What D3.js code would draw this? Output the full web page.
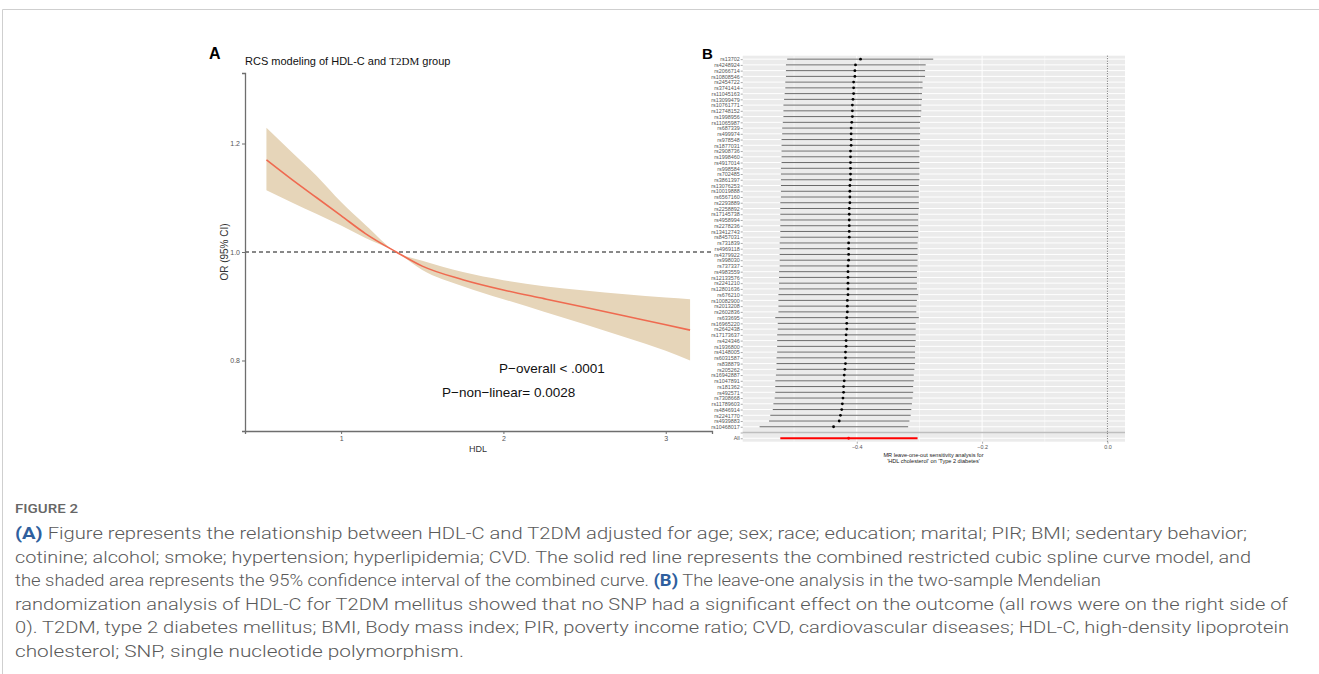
<!DOCTYPE html>
<html>
<head>
<meta charset="utf-8">
<script src="https://cdn.jsdelivr.net/npm/d3@7"></script>
<style>
body { margin: 0; background: #fff; }
svg { display: block; }
</style>
</head>
<body>
<svg id="svg1" width="1319" height="674"></svg>
<script>
// ---- panel A : RCS curve ----
var hdl     = [0.54, 0.7, 0.85, 1.0, 1.15, 1.34, 1.5, 1.75, 2.0, 2.25, 2.5, 2.75, 3.0, 3.15];
var orFit   = [1.170, 1.133, 1.100, 1.067, 1.034, 1.000, 0.974, 0.949, 0.930, 0.914, 0.898, 0.882, 0.866, 0.856];
var orLower = [1.114, 1.091, 1.070, 1.049, 1.026, 1.000, 0.967, 0.937, 0.913, 0.890, 0.867, 0.843, 0.818, 0.800];
var orUpper = [1.229, 1.183, 1.140, 1.092, 1.050, 1.000, 0.984, 0.963, 0.948, 0.937, 0.929, 0.922, 0.916, 0.913];
var xTicksA = [1, 2, 3];
var yTicksA = [0.8, 1.0, 1.2];

// ---- panel B : leave-one-out ----
var snps = ["rs13702","rs4248924","rs2066714","rs10808546","rs2454722","rs3741414","rs11045163","rs13099479",
  "rs10761771","rs12748152","rs1998956","rs11065987","rs687339","rs499974","rs978548","rs1877031","rs2908736",
  "rs1998460","rs4917014","rs998584","rs702485","rs3861397","rs13076253","rs10019888","rs6567160","rs2293889",
  "rs2258892","rs17145738","rs4958994","rs2278236","rs13412743","rs8457031","rs731839","rs4969118","rs4379922",
  "rs998030","rs737337","rs4983559","rs12133576","rs2241210","rs12801636","rs676210","rs10082900","rs2013208",
  "rs2602836","rs633695","rs16965220","rs2642438","rs17173637","rs424346","rs1936800","rs4148005","rs6031587",
  "rs838879","rs205262","rs16942887","rs1047891","rs181362","rs492571","rs7308668","rs11789603","rs4846914",
  "rs2241770","rs4939883","rs10468017"];
var snpEst = [-0.394,-0.402,-0.403,-0.403,-0.405,-0.405,-0.405,-0.406,-0.407,-0.407,-0.407,-0.408,-0.409,
  -0.409,-0.409,-0.409,-0.410,-0.410,-0.410,-0.410,-0.410,-0.410,-0.411,-0.411,-0.411,-0.411,-0.412,-0.412,
  -0.412,-0.412,-0.412,-0.412,-0.413,-0.413,-0.413,-0.413,-0.414,-0.414,-0.414,-0.414,-0.414,-0.414,-0.415,
  -0.415,-0.415,-0.416,-0.416,-0.416,-0.417,-0.417,-0.417,-0.418,-0.418,-0.418,-0.419,-0.420,-0.420,-0.421,
  -0.421,-0.422,-0.423,-0.424,-0.426,-0.428,-0.437];
var snpLo = [-0.511,-0.513,-0.513,-0.513,-0.514,-0.514,-0.515,-0.516,-0.517,-0.517,-0.517,-0.518,-0.519,
  -0.519,-0.520,-0.520,-0.520,-0.520,-0.520,-0.521,-0.521,-0.521,-0.521,-0.521,-0.521,-0.522,-0.522,-0.522,
  -0.522,-0.522,-0.522,-0.522,-0.523,-0.523,-0.523,-0.523,-0.523,-0.524,-0.524,-0.524,-0.524,-0.525,-0.525,
  -0.525,-0.525,-0.530,-0.526,-0.526,-0.527,-0.527,-0.527,-0.527,-0.528,-0.528,-0.528,-0.529,-0.530,-0.530,
  -0.530,-0.531,-0.533,-0.534,-0.538,-0.540,-0.555];
var snpHi = [-0.278,-0.290,-0.291,-0.291,-0.295,-0.295,-0.296,-0.296,-0.297,-0.297,-0.298,-0.299,-0.299,
  -0.299,-0.299,-0.300,-0.300,-0.300,-0.300,-0.300,-0.300,-0.300,-0.301,-0.301,-0.301,-0.301,-0.301,-0.302,
  -0.302,-0.302,-0.302,-0.302,-0.303,-0.303,-0.303,-0.303,-0.303,-0.304,-0.304,-0.304,-0.304,-0.302,-0.304,
  -0.305,-0.305,-0.301,-0.306,-0.306,-0.306,-0.306,-0.307,-0.307,-0.307,-0.307,-0.308,-0.309,-0.309,-0.310,
  -0.310,-0.311,-0.312,-0.313,-0.314,-0.316,-0.318];
var allEst = -0.413, allLo = -0.522, allHi = -0.303;
var xTicksB = [-0.4, -0.2, 0.0];
var xMinorB = [-0.5, -0.3, -0.1];

// ---- caption ----
var captionTitle = "FIGURE 2";
var captionLines = [
  "(A) Figure represents the relationship between HDL-C and T2DM adjusted for age; sex; race; education; marital; PIR; BMI; sedentary behavior;",
  "cotinine; alcohol; smoke; hypertension; hyperlipidemia; CVD. The solid red line represents the combined restricted cubic spline curve model, and",
  "the shaded area represents the 95% confidence interval of the combined curve. (B) The leave-one analysis in the two-sample Mendelian",
  "randomization analysis of HDL-C for T2DM mellitus showed that no SNP had a significant effect on the outcome (all rows were on the right side of",
  "0). T2DM, type 2 diabetes mellitus; BMI, Body mass index; PIR, poverty income ratio; CVD, cardiovascular diseases; HDL-C, high-density lipoprotein",
  "cholesterol; SNP, single nucleotide polymorphism."
];
var captionWidths = [1232, 1236, 1086, 1273, 1274, 449];

var svg = d3.select('#svg1');
var font = "'Liberation Sans', Arial, sans-serif";

// page frame
svg.append('path')
    .attr('d', 'M2.5,674 V9.5 H1319')
    .attr('fill', 'none')
    .attr('stroke', '#cfcfcf')
    .attr('stroke-width', 1);

// ================= PANEL A =================
var gA = svg.append('g');
var xA = d3.scaleLinear().domain([0.408, 3.285]).range([245, 712]);
var yA = d3.scaleLinear().domain([0.67, 1.33]).range([431, 73]);

var rows = hdl.map(function(h, i){
    return {x: h, y: orFit[i], lo: orLower[i], hi: orUpper[i]};
});

gA.append('path')
    .datum(rows)
    .attr('d', d3.area()
        .x(function(d){ return xA(d.x); })
        .y0(function(d){ return yA(d.lo); })
        .y1(function(d){ return yA(d.hi); })
        .curve(d3.curveMonotoneX))
    .attr('fill', '#e6d5b9');

gA.append('line')
    .attr('x1', xA.range()[0]).attr('x2', xA.range()[1])
    .attr('y1', yA(1)).attr('y2', yA(1))
    .attr('stroke', '#111')
    .attr('stroke-width', 1)
    .attr('stroke-dasharray', '4,3');

gA.append('path')
    .datum(rows)
    .attr('d', d3.line()
        .x(function(d){ return xA(d.x); })
        .y(function(d){ return yA(d.y); })
        .curve(d3.curveMonotoneX))
    .attr('fill', 'none')
    .attr('stroke', '#ef6a50')
    .attr('stroke-width', 1.6);

// axes (theme_classic style)
var axA = gA.append('g')
    .attr('transform', 'translate(0,' + yA.range()[0] + ')')
    .call(d3.axisBottom(xA).tickValues(xTicksA).tickSize(3).tickPadding(2).tickFormat(d3.format('d')));
var ayA = gA.append('g')
    .attr('transform', 'translate(' + xA.range()[0] + ',0)')
    .call(d3.axisLeft(yA).tickValues(yTicksA).tickSize(3).tickPadding(2).tickFormat(d3.format('.1f')));
[axA, ayA].forEach(function(ax){
    ax.select('.domain').attr('stroke', '#6e6e6e').attr('stroke-width', 1.3);
    ax.selectAll('.tick line').attr('stroke', '#6e6e6e');
    ax.selectAll('.tick text').attr('fill', '#555').style('font', '7px ' + font);
});

gA.append('text')
    .attr('x', 478).attr('y', 452)
    .attr('text-anchor', 'middle')
    .attr('fill', '#333')
    .style('font', '9px ' + font)
    .text('HDL');

gA.append('text')
    .attr('transform', 'translate(228,252) rotate(-90)')
    .attr('text-anchor', 'middle')
    .attr('fill', '#333')
    .style('font', '10px ' + font)
    .text('OR (95% CI)');

var title = gA.append('text')
    .attr('x', 245).attr('y', 65)
    .attr('fill', '#111')
    .style('font', '11px ' + font);
title.append('tspan').text('RCS modeling of HDL-C and ');
title.append('tspan').style('font-family', "'Liberation Serif', 'Times New Roman', serif").text('T2DM');
title.append('tspan').text(' group');

gA.append('text')
    .attr('x', 499).attr('y', 373)
    .attr('fill', '#111')
    .style('font', '13.5px ' + font)
    .text('P\u2212overall < .0001');
gA.append('text')
    .attr('x', 442).attr('y', 396.5)
    .attr('fill', '#111')
    .style('font', '13.5px ' + font)
    .text('P\u2212non\u2212linear= 0.0028');

svg.append('text')
    .attr('x', 209).attr('y', 58.5)
    .attr('fill', '#000')
    .style('font', 'bold 16px ' + font)
    .text('A');

// ================= PANEL B =================
var gB = svg.append('g');
var levels = snps.concat(['', 'All']);
var xB = d3.scaleLinear().domain([-0.582, 0.028]).range([742.7, 1125]);
var yB = d3.scalePoint().domain(levels).range([55.7, 441.7]).padding(0.6);

gB.append('rect')
    .attr('x', xB.range()[0]).attr('y', 55.7)
    .attr('width', xB.range()[1] - xB.range()[0])
    .attr('height', 441.7 - 55.7)
    .attr('fill', '#ebebeb');

gB.selectAll('.vminor')
    .data(xMinorB).enter().append('line')
    .attr('x1', function(d){ return xB(d); }).attr('x2', function(d){ return xB(d); })
    .attr('y1', 55.7).attr('y2', 441.7)
    .attr('stroke', '#fff').attr('stroke-width', 0.5);
gB.selectAll('.vmajor')
    .data(xTicksB).enter().append('line')
    .attr('x1', function(d){ return xB(d); }).attr('x2', function(d){ return xB(d); })
    .attr('y1', 55.7).attr('y2', 441.7)
    .attr('stroke', '#fff').attr('stroke-width', 1);
gB.selectAll('.hmajor')
    .data(levels).enter().append('line')
    .attr('x1', xB.range()[0]).attr('x2', xB.range()[1])
    .attr('y1', function(d){ return yB(d); }).attr('y2', function(d){ return yB(d); })
    .attr('stroke', '#fff').attr('stroke-width', 1);

// grey separator line at the blank row
gB.append('line')
    .attr('x1', xB.range()[0]).attr('x2', xB.range()[1])
    .attr('y1', yB('')).attr('y2', yB(''))
    .attr('stroke', '#bebebe').attr('stroke-width', 1.4);

// dotted line at zero
gB.append('line')
    .attr('x1', xB(0)).attr('x2', xB(0))
    .attr('y1', 55.7).attr('y2', 441.7)
    .attr('stroke', '#222').attr('stroke-width', 0.7)
    .attr('stroke-dasharray', '1,1.5');

var snpRows = snps.map(function(s, i){
    return {snp: s, b: snpEst[i], lo: snpLo[i], up: snpHi[i]};
});

gB.selectAll('.bar')
    .data(snpRows).enter().append('line')
    .attr('x1', function(d){ return xB(d.lo); })
    .attr('x2', function(d){ return xB(d.up); })
    .attr('y1', function(d){ return yB(d.snp); })
    .attr('y2', function(d){ return yB(d.snp); })
    .attr('stroke', '#444').attr('stroke-width', 0.8);

gB.selectAll('.pt')
    .data(snpRows).enter().append('circle')
    .attr('cx', function(d){ return xB(d.b); })
    .attr('cy', function(d){ return yB(d.snp); })
    .attr('r', 1.4)
    .attr('fill', '#000');

gB.append('line')
    .attr('x1', xB(allLo)).attr('x2', xB(allHi))
    .attr('y1', yB('All')).attr('y2', yB('All'))
    .attr('stroke', '#ff0000').attr('stroke-width', 2);
gB.append('circle')
    .attr('cx', xB(allEst)).attr('cy', yB('All'))
    .attr('r', 1.4).attr('fill', '#ff0000');

var ayB = gB.append('g')
    .attr('transform', 'translate(' + xB.range()[0] + ',0)')
    .call(d3.axisLeft(yB).tickSize(2).tickPadding(1));
var axB = gB.append('g')
    .attr('transform', 'translate(0,441.7)')
    .call(d3.axisBottom(xB).tickValues(xTicksB).tickSize(2).tickPadding(1.5)
        .tickFormat(function(d){ return d === 0 ? '0.0' : '\u2212' + d3.format('.1f')(-d); }));
[axB, ayB].forEach(function(ax){
    ax.select('.domain').remove();
    ax.selectAll('.tick line').attr('stroke', '#555').attr('stroke-width', 0.5);
    ax.selectAll('.tick text').attr('fill', '#555').style('font', '5.4px ' + font);
});

gB.append('text')
    .attr('x', 933.5).attr('y', 456.5)
    .attr('text-anchor', 'middle')
    .attr('fill', '#222')
    .style('font', '5.6px ' + font)
    .text('MR leave-one-out sensitivity analysis for');
gB.append('text')
    .attr('x', 933.5).attr('y', 463)
    .attr('text-anchor', 'middle')
    .attr('fill', '#222')
    .style('font', '5.6px ' + font)
    .text("'HDL cholesterol' on 'Type 2 diabetes'");

svg.append('text')
    .attr('x', 702).attr('y', 58.5)
    .attr('fill', '#000')
    .style('font', 'bold 15px ' + font)
    .text('B');

// ================= CAPTION =================
var capFont = "Roboto, 'Noto Sans', sans-serif";
svg.append('text')
    .attr('x', 15).attr('y', 513)
    .attr('fill', '#666')
    .attr('textLength', 63).attr('lengthAdjust', 'spacingAndGlyphs')
    .style('font', '500 12.5px ' + capFont)
    .text(captionTitle);

captionLines.forEach(function(line, i){
    var t = svg.append('text')
        .attr('x', 15).attr('y', 539 + i * 23.6)
        .attr('fill', '#5a5a5a')
        .attr('textLength', captionWidths[i]).attr('lengthAdjust', 'spacingAndGlyphs')
        .style('font', '300 16.5px ' + capFont);
    line.split(/(\([AB]\))/).forEach(function(part){
        if (!part) return;
        var ts = t.append('tspan').text(part);
        if (/^\([AB]\)$/.test(part)) ts.attr('fill', '#2f5f9e').style('font-weight', 700);
    });
});
</script>
</body>
</html>
